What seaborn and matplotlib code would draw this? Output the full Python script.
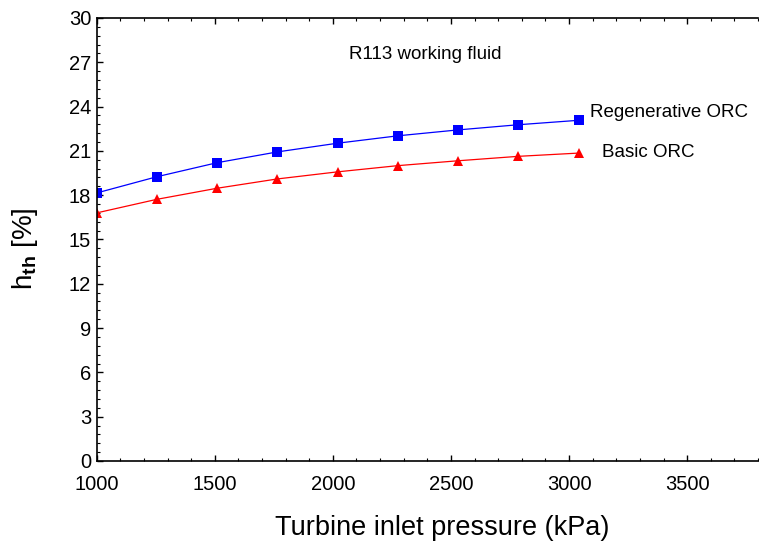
import numpy as np
import pandas as pd
import matplotlib
matplotlib.use("Agg")
import matplotlib.pyplot as plt
from matplotlib.ticker import MultipleLocator
import seaborn as sns

# Turbine inlet pressure (kPa) and thermal efficiency (%)
pressure = [1000, 1255, 1510, 1765, 2020, 2275, 2530, 2785, 3040]
eff_regen = [18.15, 19.25, 20.2, 20.93, 21.52, 22.02, 22.42, 22.77, 23.07]
eff_basic = [16.8, 17.72, 18.47, 19.1, 19.58, 20.0, 20.33, 20.63, 20.85]

series_names = ["Regenerative ORC", "Basic ORC"]
series_colors = ["#0000ff", "#ff0000"]
series_markers = ["s", "^"]

sns.set_style("ticks")
plt.rcParams["font.family"] = ["Liberation Sans", "DejaVu Sans"]
plt.rcParams["mathtext.fontset"] = "custom"
plt.rcParams["mathtext.rm"] = "Liberation Sans"
plt.rcParams["mathtext.bf"] = "Liberation Sans:bold"
for key in ["text.color", "axes.labelcolor", "xtick.color", "ytick.color"]:
    plt.rcParams[key] = "black"

df = pd.DataFrame({
    "pressure": pressure * 2,
    "eff": eff_regen + eff_basic,
    "cycle": [series_names[0]] * len(pressure) + [series_names[1]] * len(pressure),
})

fig = plt.figure(figsize=(7.59, 5.48), dpi=100)
ax = fig.add_axes([0.1274, 0.1588, 0.8713, 0.8084])

sns.lineplot(data=df, x="pressure", y="eff", hue="cycle", style="cycle",
             palette=dict(zip(series_names, series_colors)),
             markers=dict(zip(series_names, series_markers)),
             dashes=False, linewidth=0.9, markersize=7, markeredgewidth=0,
             legend=False, ax=ax)

ax.set_xlim(1000, 3800)
ax.set_ylim(0, 30)
ax.xaxis.set_major_locator(MultipleLocator(500))
ax.xaxis.set_minor_locator(MultipleLocator(100))
ax.yaxis.set_major_locator(MultipleLocator(3))
ax.yaxis.set_minor_locator(MultipleLocator(0.6))

ax.tick_params(axis="both", which="both", direction="in", color="black",
               labelcolor="black", labelsize=14.5, top=True, right=False)
ax.tick_params(which="major", length=4, width=1)
ax.tick_params(which="minor", length=2, width=0.8)
ax.tick_params(axis="x", pad=10)
ax.tick_params(axis="y", pad=4)

for side in ["left", "bottom", "top"]:
    ax.spines[side].set_color("black")
    ax.spines[side].set_linewidth(1.2)
ax.spines["right"].set_visible(False)

ax.set_xlabel("Turbine inlet pressure (kPa)", fontsize=19.5)
ax.xaxis.set_label_coords(0.523, -0.122)
ax.set_ylabel(r"h$_{\mathbf{th}}$ [%]", fontsize=20)
ax.yaxis.set_label_coords(-0.085, 0.48)

ax.text(2390, 27.5, "R113 working fluid", fontsize=13.5, ha="center", va="center")
ax.text(3089, 23.62, "Regenerative ORC", fontsize=13.5, ha="left", va="center")
ax.text(3140, 20.9, "Basic ORC", fontsize=13.5, ha="left", va="center")

fig.savefig("out.png", dpi=100)
